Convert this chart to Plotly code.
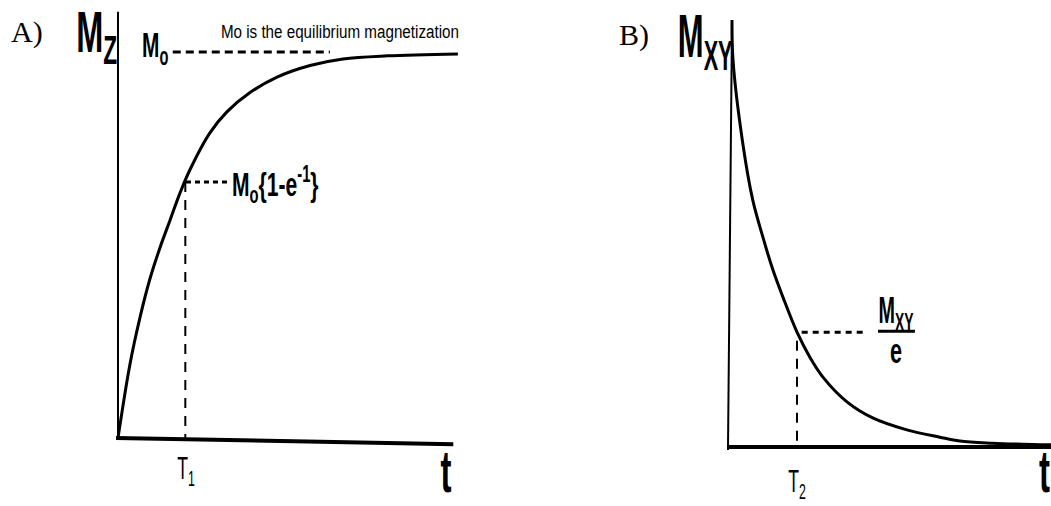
import json
import plotly.graph_objects as go

W, H = 1051, 506

# ---------------- data ----------------
# Panel A: longitudinal recovery, t in units of T1, Mz in units of M0
t_a = [0, 0.18, 0.33, 0.48, 0.64, 0.79, 0.94, 1.09, 1.39, 1.65, 2.00, 2.41, 2.91, 3.41, 4.08, 5.15]
mz_a = [0, 0.19, 0.31, 0.41, 0.495, 0.565, 0.635, 0.695, 0.79, 0.845, 0.895, 0.935, 0.965, 0.982, 0.99, 0.995]
t1_value = 1.02          # position of T1 on the t axis
mz_at_t1 = 0.663         # level marked M0(1-e^-1)
m0_level = 1.0           # equilibrium magnetization
m0_dash_span = [0.83, 3.21]
t1_dash_span = [1.03, 1.67]
axis_a_x = [-0.03, 5.08]
axis_a_top = 1.104

# Panel B: transverse decay, t in units of T2, Mxy in units of Mxy(0)
t_b = [0.03, 0.045, 0.19, 0.34, 0.49, 0.64, 0.79, 1.0, 1.19, 1.39, 1.75, 2.13, 2.64, 3.13, 3.43, 3.91, 4.79]
mxy_b = [1.0, 0.906, 0.712, 0.578, 0.492, 0.415, 0.351, 0.269, 0.211, 0.163, 0.105, 0.068, 0.040, 0.023, 0.014, 0.009, 0.005]
t2_value = 1.0
mxy_at_t2 = 0.269
t2_dash_span = [1.07, 2.01]
axis_b_x = [-0.045, 4.79]
axis_b_bottom = -0.007

# ---------------- pixel geometry of the two panels ----------------
A_X0, A_SX, A_Y0, A_SY = 118, 66.0, 438, 386.0
B_X0, B_SX, B_Y0, B_SY = 730, 67.0, 447, 427.0
SPLIT = 525.5

def xr(x0, sx, p0, p1):
    return [(p0 - x0) / sx, (p1 - x0) / sx]

def yr(y0, sy):
    return [(y0 - H) / sy, y0 / sy]

def px(x, y):
    return dict(x=x / W, y=1 - y / H, xref="paper", yref="paper")

BLACK = "black"
SERIF = "Liberation Serif, DejaVu Serif, serif"
SANS = "Liberation Sans, Arial, sans-serif"

fig = go.Figure()

def line(x, y, xa, ya, width, dash="solid", shape="linear"):
    fig.add_trace(go.Scatter(x=x, y=y, xaxis=xa, yaxis=ya, mode="lines",
                             line=dict(color=BLACK, width=width, dash=dash, shape=shape),
                             hoverinfo="skip", showlegend=False))

# Panel A
line([0, 0], [0, axis_a_top], "x", "y", 2)
line(axis_a_x, [0, -0.016], "x", "y", 4)
line(t_a, mz_a, "x", "y", 3, shape="spline")
line(m0_dash_span, [m0_level, m0_level], "x", "y", 3, "8px,5px")
line(t1_dash_span, [mz_at_t1, mz_at_t1], "x", "y", 3, "5px,4px")
line([t1_value, t1_value], [mz_at_t1, 0], "x", "y", 2, "10px,8px")

# Panel B
line([-0.03, 0.03], [axis_b_bottom, 1.0], "x2", "y2", 2)
line(axis_b_x, [0, 0], "x2", "y2", 4)
line(t_b, mxy_b, "x2", "y2", 3, shape="spline")
line(t2_dash_span, [mxy_at_t2, mxy_at_t2], "x2", "y2", 3, "6px,5px")
line([t2_value, t2_value], [mxy_at_t2 - 0.02, 0.012], "x2", "y2", 2, "10px,8px")
# fraction bar of Mxy/e
line([2.21, 2.76], [mxy_at_t2 + 0.002, mxy_at_t2 + 0.002], "x2", "y2", 3)

ax_common = dict(showgrid=False, zeroline=False, showticklabels=False, ticks="",
                 showline=False, fixedrange=True)
fig.update_layout(
    width=W, height=H, margin=dict(l=0, r=0, t=0, b=0),
    paper_bgcolor="white", plot_bgcolor="rgba(0,0,0,0)",
    xaxis=dict(domain=[0, SPLIT / W], range=xr(A_X0, A_SX, 0, SPLIT), **ax_common),
    yaxis=dict(domain=[0, 1], range=yr(A_Y0, A_SY), **ax_common),
    xaxis2=dict(domain=[SPLIT / W, 1], range=xr(B_X0, B_SX, SPLIT, W), anchor="y2", **ax_common),
    yaxis2=dict(domain=[0, 1], range=yr(B_Y0, B_SY), anchor="x2", **ax_common),
    showlegend=False,
)

scales, origins = [], []

def label(text, x, y, size, family=SANS, xanchor="center", yanchor="middle", sx=1.0, bold=False):
    t = f"<b>{text}</b>" if bold else text
    fig.add_annotation(text=t, showarrow=False, xanchor=xanchor, yanchor=yanchor, borderpad=0,
                       font=dict(family=family, size=size, color=BLACK), **px(x, y))
    scales.append(sx)
    origins.append({"left": "left center", "right": "right center"}.get(xanchor, "center"))

label("A)", 27, 32, 30, SERIF)
label("B)", 634, 35, 30, SERIF)
label("M<sub>Z</sub>", 118, 36, 58, xanchor="right", sx=0.56, bold=True)
label("M<sub>o</sub>", 141, 47, 36, xanchor="left", sx=0.58, bold=True)
label("Mo is the equilibrium magnetization", 340, 32, 19, sx=0.8)
label("M<sub>o</sub>{1-e<sup>-1</sup>}", 231, 184, 34, xanchor="left", sx=0.62, bold=True)
label("T<sub>1</sub>", 186, 470, 32, sx=0.55)
label("t", 446, 506, 60, yanchor="bottom", sx=0.55, bold=True)
label("M<sub>XY</sub>", 734, 40, 62, xanchor="right", sx=0.5, bold=True)
label("T<sub>2</sub>", 797, 483, 32, sx=0.55)
label("t", 1051, 506, 60, xanchor="right", yanchor="bottom", sx=0.55, bold=True)
label("M<sub>XY</sub>", 896, 313, 36, sx=0.55, bold=True)
label("e", 896, 350, 36, sx=0.6, bold=True)

post = """
var gd = document.getElementById('{plot_id}');
var sc = %s, org = %s;
gd.querySelectorAll('g.annotation').forEach(function(g){
  var i = +g.getAttribute('data-index');
  var t = g.querySelector('text.annotation-text');
  if(!t || sc[i] === undefined || sc[i] === 1) return;
  t.style.transformBox = 'fill-box';
  t.style.transformOrigin = org[i];
  t.style.transform = 'scaleX(' + sc[i] + ')';
});
""" % (json.dumps(scales), json.dumps(origins))

fig.write_html("out.html", post_script=post)
